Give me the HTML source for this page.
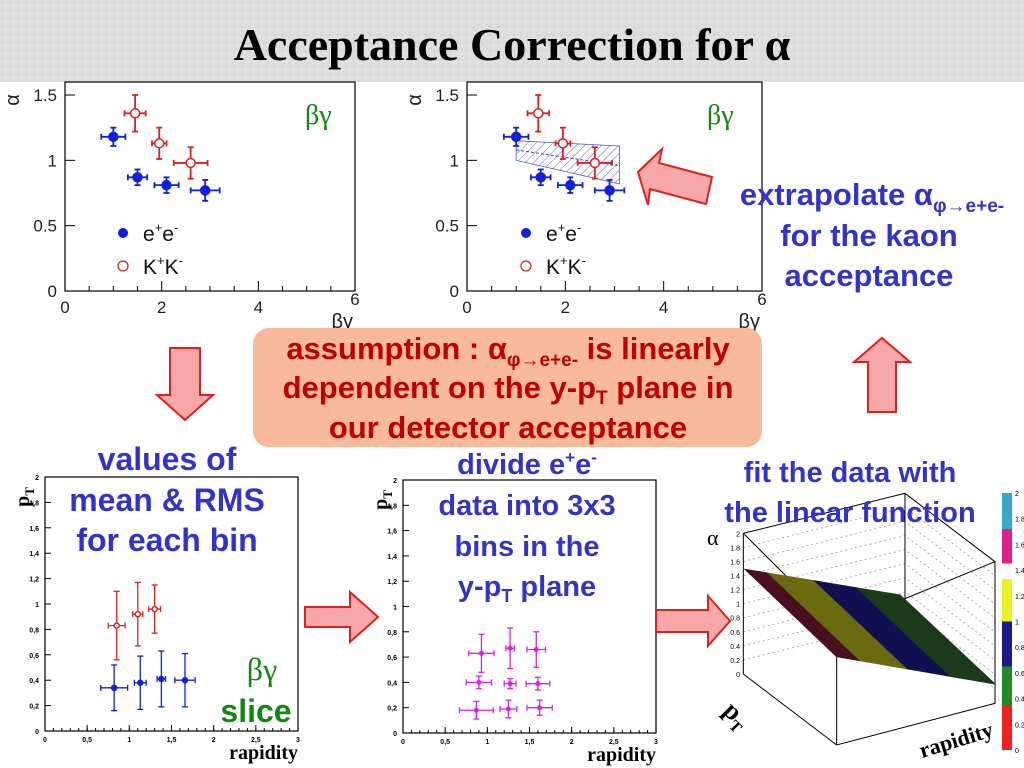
<!DOCTYPE html>
<html><head><meta charset="utf-8"><style>
body{margin:0;width:1024px;height:768px;overflow:hidden;background:#fff;font-family:"Liberation Sans",sans-serif}
svg{position:absolute;left:0;top:0}
</style></head><body>
<svg id="s" width="1024" height="768" viewBox="0 0 1024 768" xmlns="http://www.w3.org/2000/svg" font-family="Liberation Sans, sans-serif">
<defs>
<pattern id="hatch" width="6" height="6" patternUnits="userSpaceOnUse" patternTransform="rotate(45)"><line x1="0" y1="0" x2="0" y2="6" stroke="#3344cc" stroke-width="0.8"/></pattern>
<pattern id="granite" width="8" height="8" patternUnits="userSpaceOnUse"><rect width="8" height="8" fill="#dedede"/><circle cx="2" cy="3" r="1" fill="#cfcfcf"/><circle cx="6" cy="6" r="0.8" fill="#ececec"/></pattern>
</defs>
<rect x="0" y="0" width="1024" height="82" fill="url(#granite)"/>
<text x="512" y="60" text-anchor="middle" font-family="Liberation Serif, serif" font-weight="bold" font-size="46" fill="#000">Acceptance Correction for α</text>

<g id="c1"></g>
<g id="c2"></g>
<g id="c3"></g>
<g id="c4"></g>
<g id="c5"></g>

<!-- arrows -->
<polygon points="170,348 200,348 200,395 213,395 185,420 157,395 170,395" fill="#f8a8a8" stroke="#e02020" stroke-width="2"/>
<polygon points="868,412 896,412 896,362 910,362 882,338 854,362 868,362" fill="#f8a8a8" stroke="#e02020" stroke-width="2"/>
<polygon points="638,172 662,149 659,163 712,177 706,204 650,189 648,205" fill="#f8a8a8" stroke="#e02020" stroke-width="2"/>
<polygon points="305,607 350,607 350,592 378,617 350,642 350,627 305,627" fill="#f8a8a8" stroke="#e02020" stroke-width="2"/>
<polygon points="656,610 708,610 708,596 730,621 708,646 708,632 656,632" fill="#f8a8a8" stroke="#e02020" stroke-width="2"/>

<!-- assumption box -->
<rect x="253" y="328" width="509" height="119" rx="16" fill="#f9b99b"/>
<g font-weight="bold" font-size="31" fill="#c00000" text-anchor="middle">
<text x="508" y="359">assumption : α<tspan font-size="19" dy="7">φ→e+e-</tspan><tspan dy="-7"> is linearly</tspan></text>
<text x="508" y="398">dependent on the y-p<tspan font-size="19" dy="6">T</tspan><tspan dy="-6"> plane in</tspan></text>
<text x="508" y="438">our detector acceptance</text>
</g>

<g font-weight="bold" font-size="31" fill="#3333cc" text-anchor="middle">
<text x="872" y="205">extrapolate α<tspan font-size="19" dy="7">φ→e+e-</tspan></text>
<text x="869" y="246">for the kaon</text>
<text x="869" y="286">acceptance</text>
</g>
<g font-weight="bold" font-size="32" fill="#3333cc" text-anchor="middle">
<text x="167" y="470">values of</text>
<text x="167" y="511">mean &amp; RMS</text>
<text x="167" y="551">for each bin</text>
</g>
<g font-weight="bold" font-size="29" fill="#3333cc" text-anchor="middle">
<text x="527" y="474">divide e<tspan font-size="17" dy="-11">+</tspan><tspan dy="11">e</tspan><tspan font-size="17" dy="-11">-</tspan></text>
<text x="527" y="515">data into 3x3</text>
<text x="527" y="556">bins in the</text>
<text x="527" y="596">y-p<tspan font-size="18" dy="6">T</tspan><tspan dy="-6"> plane</tspan></text>
</g>
<g font-weight="bold" font-size="29" fill="#3333cc" text-anchor="middle">
<text x="850" y="482">fit the data with</text>
<text x="850" y="522">the linear function</text>
</g>
<g font-weight="bold" fill="#118811" text-anchor="middle">
<text x="262" y="680" font-size="32" font-family="Liberation Serif, serif" font-weight="normal">βγ</text>
<text x="256" y="722" font-size="32">slice</text>
</g>
</svg>
<script>
const NS="http://www.w3.org/2000/svg";
// ---- data ----
const eeBG=[1.0,1.5,2.1,2.9];
const eeAlpha=[1.18,0.87,0.81,0.77];
const eeBGerr=[0.25,0.2,0.25,0.3];
const eeAlphaErr=[0.07,0.06,0.06,0.08];
const kkBG=[1.45,1.95,2.6];
const kkAlpha=[1.36,1.13,0.98];
const kkBGerr=[0.22,0.15,0.35];
const kkAlphaErr=[0.14,0.12,0.12];
const bandX=[1.0,3.1];
const bandUpper=[1.15,1.11];
const bandMid=[1.08,0.96];
const bandLower=[1.0,0.82];
const alphaTicks=[0,0.5,1,1.5];
const bgTicks=[0,2,4,6];
const kkY=[0.85,1.1,1.3];
const kkPt=[0.83,0.92,0.96];
const kkYerr=[0.1,0.06,0.07];
const kkPtErr=[0.27,0.25,0.19];
const eeY=[0.82,1.13,1.38,1.66];
const eePt=[0.34,0.38,0.41,0.40];
const eeYerr=[0.16,0.07,0.05,0.12];
const eePtErr=[0.18,0.21,0.22,0.21];
const binY=[0.93,1.27,1.58,0.9,1.27,1.6,0.87,1.25,1.62];
const binPt=[0.63,0.67,0.66,0.40,0.39,0.39,0.18,0.19,0.20];
const binYerr=[0.15,0.05,0.11,0.15,0.07,0.14,0.2,0.1,0.15];
const binPtErr=[0.15,0.16,0.14,0.05,0.04,0.05,0.07,0.07,0.06];
const ptTicks=[0,0.2,0.4,0.6,0.8,1,1.2,1.4,1.6,1.8,2];
const ptTickLabels=["0","0,2","0,4","0,6","0,8","1","1,2","1,4","1,6","1,8","2"];
const rapTicks=[0,0.5,1,1.5,2,2.5,3];
const rapTickLabels=["0","0,5","1","1,5","2","2,5","3"];
const surfaceBands=[0,0.15,0.45,0.72,1];
const surfaceColors=["#4a0f1e","#6a6a10","#101050","#1a3a1a"];
const zTicks=[0,0.2,0.4,0.6,0.8,1,1.2,1.4,1.6,1.8,2];
const zTickLabels=["0","0.2","0.4","0.6","0.8","1","1.2","1.4","1.6","1.8","2"];
const cbLevels=[2,1.72,1.45,1.33,1.0,0.65,0.35,0];
const cbColors=["#33aacc","#e0208a","#ffffff","#eeee22","#1a1a88","#22882a","#ee2020"];
const cbTicks=[0,0.2,0.4,0.6,0.8,1,1.2,1.4,1.6,1.8,2];
const cbTickLabels=["0","0.2","0.4","0.6","0.8","1","1.2","1.4","1.6","1.8","2"];

function el(parent,tag,attrs,text){const e=document.createElementNS(NS,tag);for(const k in attrs)e.setAttribute(k,attrs[k]);if(text!==undefined)e.textContent=text;parent.appendChild(e);return e;}
function lin(d0,d1,r0,r1){return v=>r0+(v-d0)/(d1-d0)*(r1-r0);}

function errPt(g,X,Y,x,y,ex,ey,color,filled,r,sw,name){
  const l1=el(g,"line",{x1:X(x-ex),x2:X(x+ex),y1:Y(y),y2:Y(y),stroke:color,"stroke-width":sw});
  
  
  const l2=el(g,"line",{x1:X(x),x2:X(x),y1:Y(y-ey),y2:Y(y+ey),stroke:color,"stroke-width":sw});
  
  
  [[X(x-ex),Y(y),0],[X(x+ex),Y(y),0],[X(x),Y(y-ey),1],[X(x),Y(y+ey),1]].forEach(c=>{
    const cap=c[2]?el(g,"line",{x1:c[0]-3,x2:c[0]+3,y1:c[1],y2:c[1],stroke:color,"stroke-width":sw}):el(g,"line",{x1:c[0],x2:c[0],y1:c[1]-3,y2:c[1]+3,stroke:color,"stroke-width":sw});
    
    
  });
  const m=el(g,"circle",{cx:X(x),cy:Y(y),r:r,fill:filled?color:"#fff",stroke:color,"stroke-width":1.5});
  
  
}

function topChart(id,x0,x1,band){
  const g=document.getElementById(id);
  const X=lin(0,6,x0,x1),Y=lin(0,1.5,291,95);
  const fr=el(g,"rect",{x:x0,y:82,width:x1-x0,height:209,fill:"#fff",stroke:"#000","stroke-width":1.2});
  
  
  alphaTicks.forEach(t=>{
    const tk=el(g,"line",{x1:x0,x2:x0+10,y1:Y(t),y2:Y(t),stroke:"#000"});
    
    
    const tl=el(g,"text",{x:x0-8,y:Y(t)+6,"text-anchor":"end","font-size":17,fill:"#222"},String(t));
    
    
  });
  for(let v=0.5;v<6;v+=0.5){const m=el(g,"line",{x1:X(v),x2:X(v),y1:291,y2:291-(v%2===0?10:5),stroke:"#000"});
    
    }
  bgTicks.forEach(t=>{const tl=el(g,"text",{x:X(t),y:313,"text-anchor":"middle","font-size":17,fill:"#222",dy:t===6?-8:0},String(t));
    
    });
  const yt=el(g,"text",{x:0,y:0,"font-size":20,fill:"#222",transform:`translate(${x0-46},100) rotate(-90)`,"text-anchor":"middle"},"α");
  
  
  const xt=el(g,"text",{x:x1-2,y:328,"font-size":20,fill:"#222","text-anchor":"end"},"βγ");
  
  
  const lab=el(g,"text",{x:x0+240,y:124,"font-size":28,fill:"#118811","font-family":"Liberation Serif, serif"},"βγ");
  
  
  if(band){
    const b=el(g,"polygon",{points:`${X(bandX[0])},${Y(bandUpper[0])} ${X(bandX[1])},${Y(bandUpper[1])} ${X(bandX[1])},${Y(bandLower[1])} ${X(bandX[0])},${Y(bandLower[0])}`,fill:"url(#hatch)",stroke:"#4455cc","stroke-width":0.8});
    
    
    const ml=el(g,"line",{x1:X(bandX[0]),y1:Y(bandMid[0]),x2:X(bandX[1]),y2:Y(bandMid[1]),stroke:"#3344cc","stroke-dasharray":"3,2"});
    
    
  }
  kkBG.forEach((v,i)=>errPt(g,X,Y,v,kkAlpha[i],kkBGerr[i],kkAlphaErr[i],"#e02020",false,4.5,1.8,"kk-point"));
  eeBG.forEach((v,i)=>errPt(g,X,Y,v,eeAlpha[i],eeBGerr[i],eeAlphaErr[i],"#1020dd",true,4.5,1.8,"ee-point"));
  const lx=X(1.2);
  const lc1=el(g,"circle",{cx:lx,cy:233,r:5,fill:"#1020dd"});
  
  
  const lt1=el(g,"text",{x:lx+20,y:241,"font-size":21,fill:"#111"});
  
  
  lt1.innerHTML='e<tspan font-size="13" dy="-9">+</tspan><tspan dy="9">e</tspan><tspan font-size="13" dy="-9">-</tspan>';
  const lc2=el(g,"circle",{cx:lx,cy:266,r:5,fill:"#fff",stroke:"#e02020","stroke-width":1.3});
  
  
  const lt2=el(g,"text",{x:lx+20,y:274,"font-size":21,fill:"#111"});
  
  
  lt2.innerHTML='K<tspan font-size="13" dy="-9">+</tspan><tspan dy="9">K</tspan><tspan font-size="13" dy="-9">-</tspan>';
}
topChart("c1",65,355,false);
topChart("c2",467,762,true);

function botChart(id,x0,x1,y0,y1,series){
  const g=document.getElementById(id);
  const X=lin(0,3,x0,x1),Y=lin(0,2,y0,y1);
  const fr=el(g,"rect",{x:x0,y:y1,width:x1-x0,height:y0-y1,fill:"none",stroke:"#000","stroke-width":1.2});
  
  
  ptTicks.forEach((t,i)=>{
    const tk=el(g,"line",{x1:x0,x2:x0+6,y1:Y(t),y2:Y(t),stroke:"#000"});
    
    
    const tl=el(g,"text",{x:x0-6,y:Y(t)+3,"text-anchor":"end","font-size":7,fill:"#000","font-weight":"bold"},ptTickLabels[i]);
    
    
  });
  for(let v=0.1;v<3;v+=0.1){const m=el(g,"line",{x1:X(v),x2:X(v),y1:y0,y2:y0-3,stroke:"#000"});
    
    }
  rapTicks.forEach((t,i)=>{
    const tk=el(g,"line",{x1:X(t),x2:X(t),y1:y0,y2:y0-6,stroke:"#000"});
    
    
    const tl=el(g,"text",{x:X(t),y:y0+11,"text-anchor":"middle","font-size":7,fill:"#000","font-weight":"bold"},rapTickLabels[i]);
    
    
  });
  const yt=el(g,"text",{x:0,y:0,"font-size":20,"font-weight":"bold","font-family":"Liberation Serif, serif",transform:`translate(${x0-16},${y1+20}) rotate(-90)`,"text-anchor":"middle"});
  
  
  yt.innerHTML='p<tspan font-size="13" dy="5">T</tspan>';
  const xt=el(g,"text",{x:x1,y:y0+28,"font-size":20,"font-weight":"bold","font-family":"Liberation Serif, serif","text-anchor":"end"},"rapidity");
  
  
  series.forEach(s=>s.x.forEach((v,i)=>errPt(g,X,Y,v,s.y[i],s.ex[i],s.ey[i],s.c,s.f,s.r,1.3,s.n)));
}
botChart("c3",45,298,731,477,[
  {x:kkY,y:kkPt,ex:kkYerr,ey:kkPtErr,c:"#e02020",f:false,r:2.5,n:"kk-bin"},
  {x:eeY,y:eePt,ex:eeYerr,ey:eePtErr,c:"#1020dd",f:true,r:2.5,n:"ee-bin"}]);
botChart("c4",403,656,733,480,[
  {x:binY,y:binPt,ex:binYerr,ey:binPtErr,c:"#e020e0",f:true,r:1.8,n:"bin-point"}]);

// 3D plot
(function(){
  const g=document.getElementById("c5");
  const P=(x,y)=>[680+x/3,480+y/3];
  const pl=(pts,attrs,name)=>{const e=el(g,"polyline",Object.assign({points:pts.map(p=>P(p[0],p[1]).join(",")).join(" "),fill:"none"},attrs));
    
    return e;};
  for(let i=1;i<10;i++){const yy=160+(582-160)*i/10;
    pl([[190,yy],[675,yy-120],[945,yy+85]],{stroke:"#999","stroke-dasharray":"2,3","stroke-width":0.8},'grid-line');}
  pl([[190,160],[675,40],[945,245],[945,670],[470,795],[190,582],[190,160]],{stroke:"#000","stroke-width":1},'box-outline');
  pl([[190,160],[470,440],[945,245]],{stroke:"#000","stroke-width":1},'box-top-front');
  pl([[470,440],[470,795]],{stroke:"#000","stroke-width":1},'box-front-edge');
  pl([[675,40],[675,470]],{stroke:"#000","stroke-width":1},'box-back-edge');
  const A=[195,268],B=[660,345],C=[945,612],D=[470,530];
  const mix=(p,q,t)=>[p[0]+(q[0]-p[0])*t,p[1]+(q[1]-p[1])*t];
  for(let i=0;i<surfaceColors.length;i++){
    const t0=surfaceBands[i],t1=surfaceBands[i+1];
    const poly=[mix(A,B,t0),mix(A,B,t1),mix(D,C,t1),mix(D,C,t0)];
    const e=el(g,"polygon",{points:poly.map(p=>P(p[0],p[1]).join(",")).join(" "),fill:surfaceColors[i],stroke:surfaceColors[i]});
    
    
  }
  const ZY=lin(0,2,P(0,582)[1],P(0,160)[1]);
  zTicks.forEach((t,i)=>{const tl=el(g,"text",{x:740,y:ZY(t)+3,"font-size":7,"text-anchor":"end",fill:"#000"},zTickLabels[i]);
    
    });
  const at=el(g,"text",{x:707,y:545,"font-size":22,"font-family":"Liberation Serif, serif"},"α");
  
  
  const pt=el(g,"text",{x:0,y:0,"font-size":26,"font-weight":"bold","font-family":"Liberation Serif, serif",transform:"translate(722,712) rotate(45)"});
  
  
  pt.innerHTML='p<tspan font-size="16" dy="6">T</tspan>';
  const rt=el(g,"text",{x:0,y:0,"font-size":22,"font-weight":"bold","font-family":"Liberation Serif, serif",transform:"translate(922,758) rotate(-17)"},"rapidity");
  
  
  const CY=lin(0,2,750,493);
  for(let i=0;i<cbColors.length;i++){
    const r=el(g,"rect",{x:1002,y:CY(cbLevels[i]),width:10,height:CY(cbLevels[i+1])-CY(cbLevels[i]),fill:cbColors[i]});
    
    
  }
  cbTicks.forEach((t,i)=>{const tl=el(g,"text",{x:1015,y:CY(t)+3,"font-size":7,fill:"#000"},cbTickLabels[i]);
    
    });
})();
</script>
</body></html>
